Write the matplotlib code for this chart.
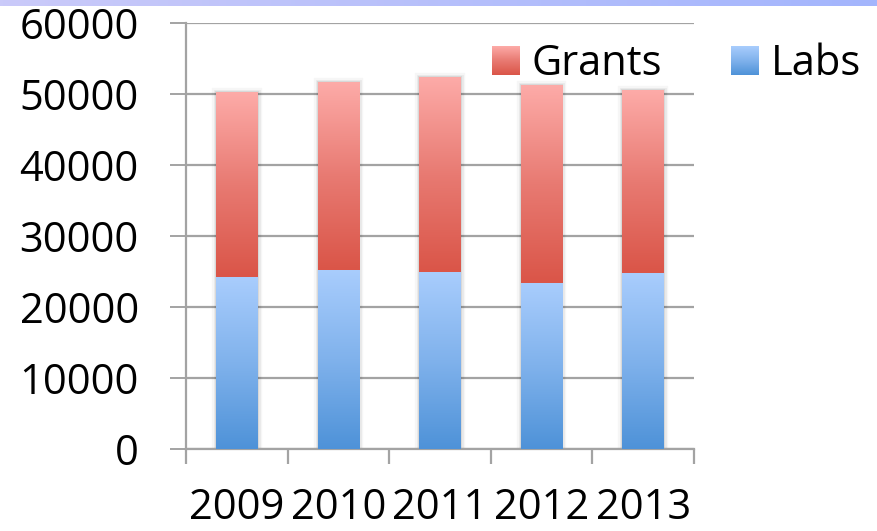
import numpy as np
import matplotlib
matplotlib.use("Agg")
import matplotlib.pyplot as plt
from matplotlib.colors import LinearSegmentedColormap
from matplotlib.legend_handler import HandlerBase
from matplotlib.image import BboxImage
from matplotlib.transforms import Bbox, TransformedBbox
from matplotlib.patches import Patch

plt.rcParams['font.family'] = ['Open Sans', 'DejaVu Sans']

# --- data -------------------------------------------------------------
years = ["2009", "2010", "2011", "2012", "2013"]
labs = [24300, 25200, 25000, 23400, 24800]
grants = [26000, 26400, 27400, 27800, 25700]
y_ticks = [0, 10000, 20000, 30000, 40000, 50000, 60000]
y_tick_labels = ["0", "10000", "20000", "30000", "40000", "50000", "60000"]

# --- styling ----------------------------------------------------------
GRID = "#a3a3a3"
grants_cmap = LinearSegmentedColormap.from_list("grants", ["#da5548", "#e87a72", "#fdaba8"])
labs_cmap = LinearSegmentedColormap.from_list("labs", ["#4e92d8", "#80b2ec", "#a9cdfd"])
ramp = np.linspace(0, 1, 256).reshape(-1, 1)
FS = 30

W, H = 877, 531
fig = plt.figure(figsize=(W / 100, H / 100), dpi=100)

# thin lavender strip along the top edge
band = fig.add_axes([0, 1 - 6 / H, 1, 6 / H])
band_cmap = LinearSegmentedColormap.from_list("band", ["#cacaf9", "#a3b5fd"])
band.imshow(np.linspace(0, 1, 256).reshape(1, -1), cmap=band_cmap, aspect="auto")
band.set_axis_off()

ax = fig.add_axes([186 / W, 1 - 449.3 / H, (694 - 186) / W, (449.3 - 22.7) / H])

x = np.arange(len(years))
bw = 0.41
totals = np.array(labs) + np.array(grants)

# soft halo around each stacked column
for lw, a in [(6, 0.035), (3.5, 0.05), (1.5, 0.07)]:
    ax.bar(x, totals, width=bw, color="none", edgecolor=(0, 0, 0, a),
           linewidth=lw, zorder=2.5)

labs_bars = ax.bar(x, labs, width=bw, color="none", edgecolor="none", zorder=3)
grant_bars = ax.bar(x, grants, bottom=labs, width=bw, color="none",
                    edgecolor="none", zorder=3)


def fill_gradient(bars, cmap):
    for b in bars:
        x0, y0, w, h = b.get_x(), b.get_y(), b.get_width(), b.get_height()
        ax.imshow(ramp, cmap=cmap, extent=[x0, x0 + w, y0, y0 + h],
                  origin="lower", aspect="auto", zorder=3,
                  interpolation="bilinear")


fill_gradient(labs_bars, labs_cmap)
fill_gradient(grant_bars, grants_cmap)

ax.set_xlim(-0.5, len(years) - 0.5)
ax.set_ylim(0, 60000)

# axes, grid and ticks
ax.set_yticks(y_ticks)
ax.set_yticklabels(y_tick_labels)
ax.yaxis.grid(True, color=GRID, linewidth=1.6, zorder=1)
ax.set_axisbelow(True)
ax.tick_params(axis="y", direction="out", length=11.5, width=1.4,
               color=GRID, labelsize=FS, pad=22.5)

ax.set_xticks(np.arange(-0.5, len(years), 1.0))
ax.set_xticklabels([])
ax.set_xticks(x, minor=True)
ax.set_xticklabels(years, minor=True)
ax.tick_params(axis="x", which="major", direction="out", length=10.8,
               width=1.6, color=GRID)
ax.tick_params(axis="x", which="minor", length=0, labelsize=FS, pad=27.5)

for side in ("top", "right"):
    ax.spines[side].set_visible(False)
for side in ("left", "bottom"):
    ax.spines[side].set_color(GRID)
    ax.spines[side].set_linewidth(1.6)


# legend keys with the same vertical gradients
class GradientKey(Patch):
    def __init__(self, cmap, **kw):
        super().__init__(**kw)
        self.cmap = cmap


class HandlerGradient(HandlerBase):
    def create_artists(self, legend, orig_handle, xdescent, ydescent,
                       width, height, fontsize, trans):
        bb = Bbox.from_bounds(-xdescent, -ydescent, width, height)
        img = BboxImage(TransformedBbox(bb, trans), cmap=orig_handle.cmap,
                        interpolation="bilinear", origin="lower")
        img.set_data(ramp)
        return [img]


handles = [GradientKey(grants_cmap, label="Grants"),
           GradientKey(labs_cmap, label="Labs")]
fig.legend(handles=handles, labels=["Grants", "Labs"],
           handler_map={GradientKey: HandlerGradient()},
           loc="center left", bbox_to_anchor=(492 / W, 1 - 64 / H),
           ncol=2, frameon=False, fontsize=FS, borderpad=0, borderaxespad=0,
           handlelength=0.67, handleheight=0.67, handletextpad=0.28,
           columnspacing=1.65)

fig.savefig("out.png", dpi=100)
